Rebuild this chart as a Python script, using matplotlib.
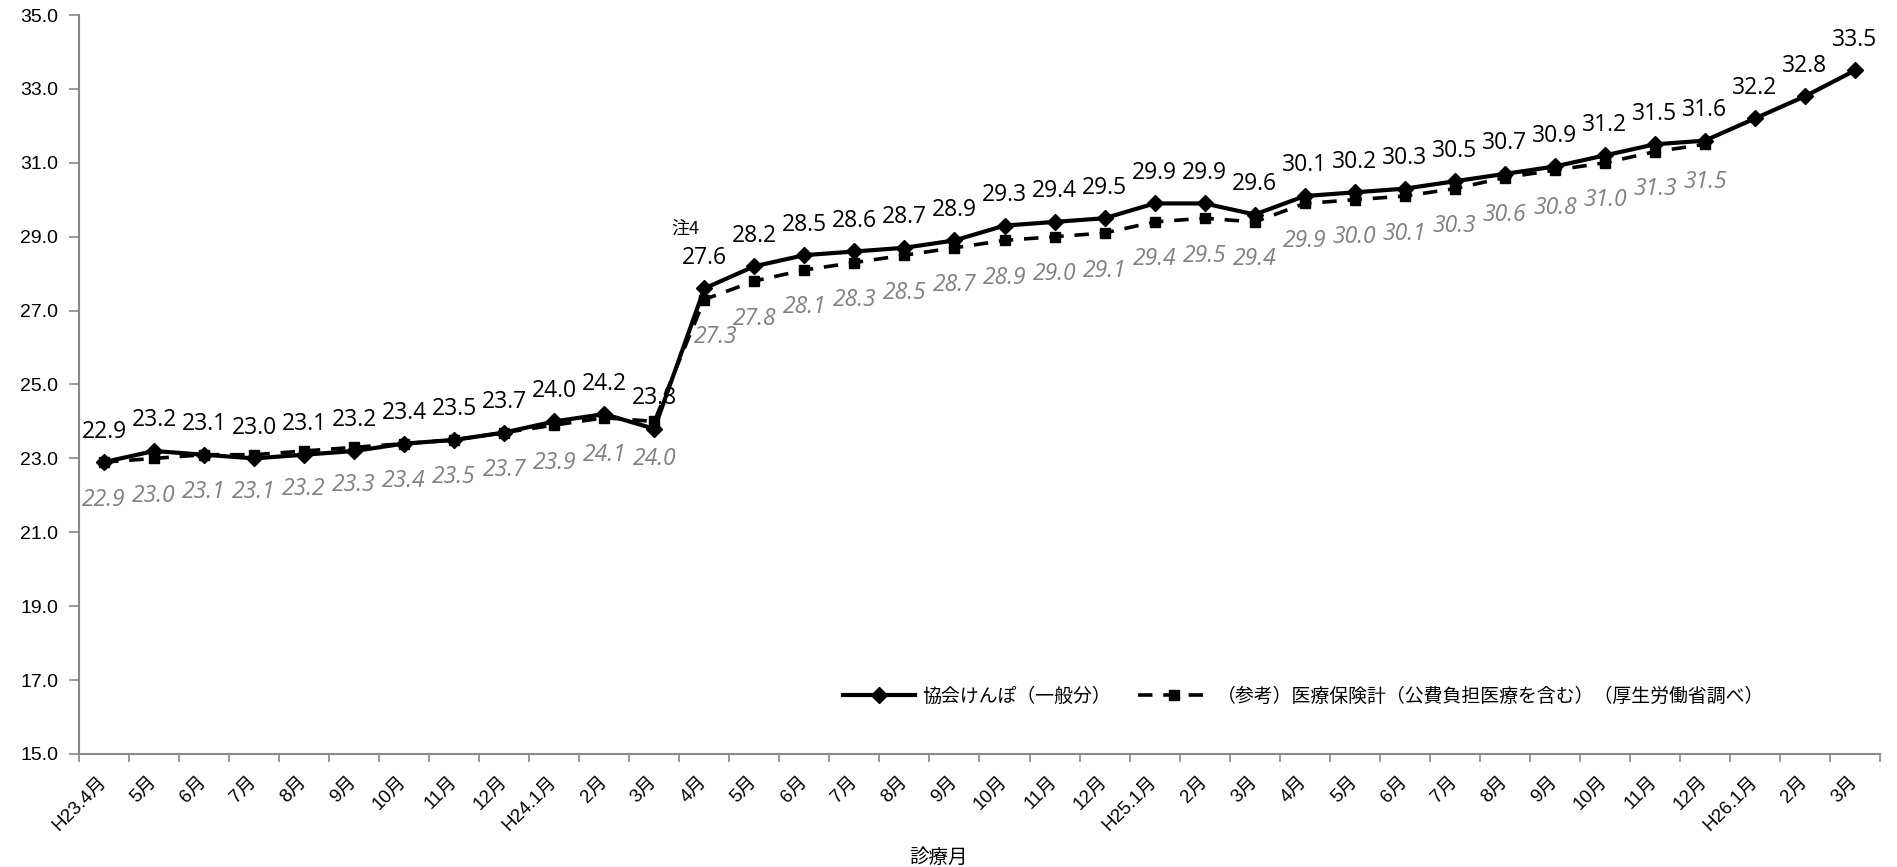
import matplotlib
matplotlib.use("Agg")
import matplotlib.pyplot as plt
from matplotlib.ticker import FixedLocator, FixedFormatter, NullFormatter

plt.rcParams['font.family'] = ['Liberation Sans', 'Noto Sans CJK JP', 'DejaVu Sans']

months = ["H23.4月", "5月", "6月", "7月", "8月", "9月", "10月", "11月", "12月",
          "H24.1月", "2月", "3月", "4月", "5月", "6月", "7月", "8月", "9月", "10月",
          "11月", "12月", "H25.1月", "2月", "3月", "4月", "5月", "6月", "7月", "8月",
          "9月", "10月", "11月", "12月", "H26.1月", "2月", "3月"]

kyokai = [22.9, 23.2, 23.1, 23.0, 23.1, 23.2, 23.4, 23.5, 23.7, 24.0, 24.2, 23.8,
          27.6, 28.2, 28.5, 28.6, 28.7, 28.9, 29.3, 29.4, 29.5, 29.9, 29.9, 29.6,
          30.1, 30.2, 30.3, 30.5, 30.7, 30.9, 31.2, 31.5, 31.6, 32.2, 32.8, 33.5]

iryo_hoken = [22.9, 23.0, 23.1, 23.1, 23.2, 23.3, 23.4, 23.5, 23.7, 23.9, 24.1, 24.0,
              27.3, 27.8, 28.1, 28.3, 28.5, 28.7, 28.9, 29.0, 29.1, 29.4, 29.5, 29.4,
              29.9, 30.0, 30.1, 30.3, 30.6, 30.8, 31.0, 31.3, 31.5]

yticks = [15.0, 17.0, 19.0, 21.0, 23.0, 25.0, 27.0, 29.0, 31.0, 33.0, 35.0]

label1 = "協会けんぽ（一般分）"
label2 = "（参考）医療保険計（公費負担医療を含む）（厚生労働省調べ）"

fig = plt.figure(figsize=(18.97, 8.67), dpi=100)
ax = fig.add_axes([79/1897, 1 - 754/867, (1880 - 79)/1897, (754 - 15)/867])

x1 = list(range(len(kyokai)))
x2 = list(range(len(iryo_hoken)))

ax.plot(x2, iryo_hoken, color='black', lw=2.6, linestyle=(0, (4, 3)), marker='s',
        markersize=7.5, label=label2, zorder=3)
ax.plot(x1, kyokai, color='black', lw=3, marker='D', markersize=8.5, label=label1, zorder=4)

ax.set_xlim(-0.5, len(months) - 0.5)
ax.set_ylim(15, 35)
ax.set_yticks(yticks)
ax.set_yticklabels([f"{v:.1f}" for v in yticks], fontsize=14)

ax.xaxis.set_major_locator(FixedLocator([i - 0.5 for i in range(len(months) + 1)]))
ax.xaxis.set_major_formatter(NullFormatter())
ax.xaxis.set_minor_locator(FixedLocator(x1))
ax.xaxis.set_minor_formatter(FixedFormatter(months))
ax.tick_params(axis='x', which='major', length=6, color='#888888', width=1.2)
ax.tick_params(axis='x', which='minor', length=0, pad=18)
ax.tick_params(axis='y', length=7, color='#888888', width=1.2, pad=8)
for lab in ax.get_xticklabels(minor=True):
    lab.set_rotation(45)
    lab.set_ha('right')
    lab.set_va('center')
    lab.set_rotation_mode('anchor')
    lab.set_fontsize(13.5)

for s in ['top', 'right']:
    ax.spines[s].set_visible(False)
for s in ['left', 'bottom']:
    ax.spines[s].set_color('#888888')
    ax.spines[s].set_linewidth(1.5)

for xi, v in zip(x1, kyokai):
    ax.annotate(f"{v:.1f}", (xi, v), xytext=(0, 22), textcoords='offset points',
                ha='center', va='center', fontsize=16.5, color='black',
                family=['Open Sans', 'DejaVu Sans'])
for xi, v in zip(x2, iryo_hoken):
    dx = 8 if xi == 12 else 0
    ax.annotate(f"{v:.1f}", (xi, v), xytext=(dx, -27), textcoords='offset points',
                ha='center', va='center', fontsize=16.5, color='#808080', style='italic',
                family=['Open Sans', 'DejaVu Sans'])

ax.annotate("注4", (12, kyokai[12]), xytext=(-14, 43), textcoords='offset points',
            ha='center', va='center', fontsize=13, color='black',
            family=['Noto Sans CJK JP', 'DejaVu Sans'])

h, l = ax.get_legend_handles_labels()
leg = fig.legend(h[::-1], l[::-1], loc='center', bbox_to_anchor=(1304/1897, 1 - 696/867),
                 ncol=2, frameon=False, handlelength=3.8, columnspacing=1.4, handletextpad=0.4,
                 prop={'family': ['Noto Sans CJK JP', 'DejaVu Sans'], 'size': 13.6})

fig.text(939/1897, 1 - 857/867, "診療月", ha='center', va='center', fontsize=14,
         family=['Noto Sans CJK JP', 'DejaVu Sans'])

fig.savefig("out.png", dpi=100)
